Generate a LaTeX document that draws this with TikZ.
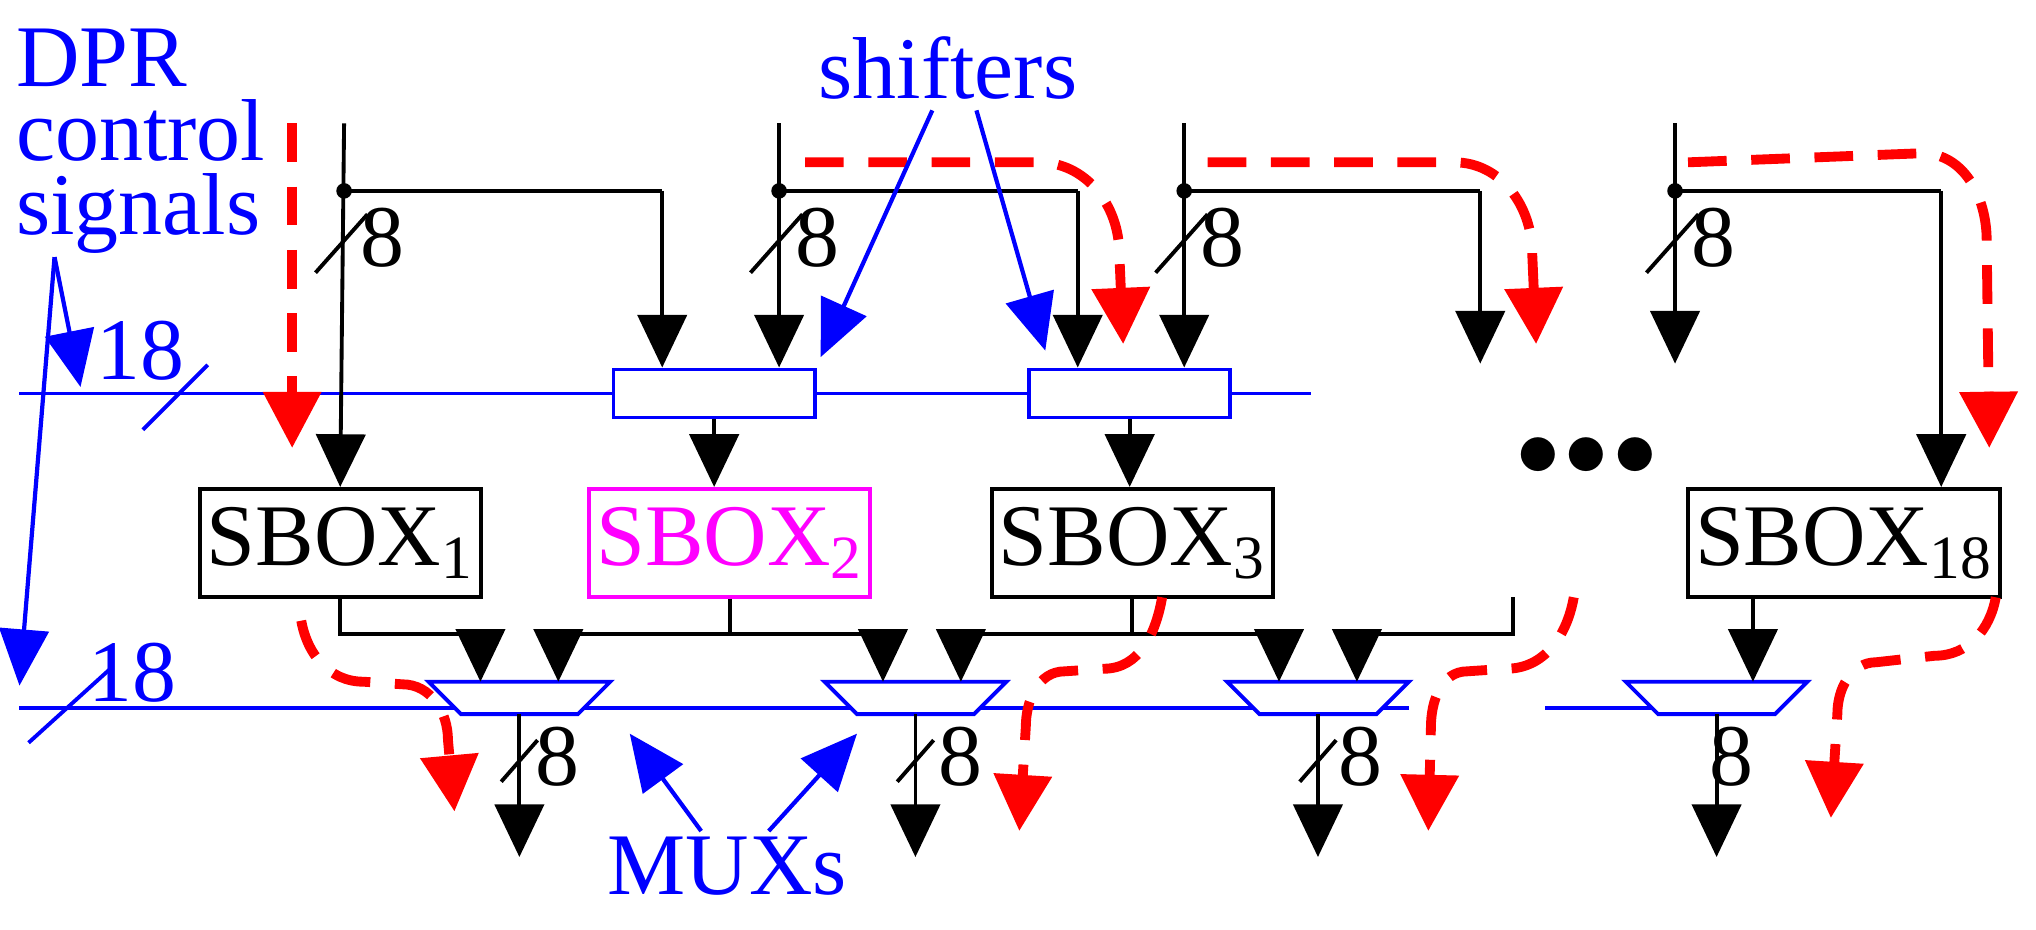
\documentclass[tikz,border=0pt]{standalone}
\usepackage{fontspec}
\setmainfont{Liberation Serif}
\usetikzlibrary{arrows.meta,calc}
\definecolor{mag}{RGB}{255,0,255}
\newlength{\ux}\setlength{\ux}{0.012985cm}
\tikzset{
 wire/.style={line width=1.1pt,-{Triangle[width=14pt,length=15pt]}},
 plain/.style={line width=1.1pt},
 bwire/.style={blue,line width=1.1pt},
 rd/.style={red,line width=2.8pt,dash pattern=on 11pt off 7pt,-{Triangle[width=16pt,length=16pt]}},
 bar/.style={blue,line width=1.2pt,-{Triangle[width=14pt,length=16pt]}},
 sbox/.style={draw,line width=1.1pt,inner sep=2pt,minimum width=215\ux,minimum height=83\ux,font=\fontsize{25}{25}\selectfont},
 shf/.style={draw=blue,fill=white,line width=1.1pt,minimum width=155\ux,minimum height=37\ux,inner sep=0pt},
 lab/.style={font=\fontsize{25}{26}\selectfont,inner sep=0pt},
 dot/.style={circle,fill,inner sep=0pt,minimum size=12\ux}
}
\begin{document}
\begin{tikzpicture}[x=0.012985cm,y=-0.012985cm]
\useasboundingbox (0,0) rectangle (1568,716);
% blue buses
\draw[bwire] (15,303) coordinate (busAL) -- (1010,303) coordinate (busAR);
\draw[bwire] (15,545) coordinate (busBL) -- (1085,545) coordinate (busBR);
\draw[bwire] (1190,545) coordinate (busCL) -- (1300,545) coordinate (busCR);
\draw[bwire] (110,331)--(160,281);
\draw[bwire] (22,572)--(85,515);
\node[lab,blue] (n18a) at (108,270) {18};
\node[lab,blue] (n18b) at (102,518) {18};
% shifters
\node[shf] (sh1) at (550,303) {};
\node[shf] (sh2) at (870,303) {};
% sboxes
\node[sbox] (s1) at (262,418) {SBOX\textsubscript{1}};
\node[sbox,draw=mag,text=mag] (s2) at (562,418) {SBOX\textsubscript{2}};
\node[sbox] (s3) at (872,418) {SBOX\textsubscript{3}};
\node[sbox] (s18) at (1420,418) {SBOX\textsubscript{18}};
\node[lab,font=\fontsize{40}{40}\selectfont] (dots) at (1222,352) {$\bullet\!\bullet\!\bullet$};
% top inputs
\foreach \x/\bx/\n in {265/510/a,600/830/b,912/1140/c,1290/1495/d}{
  \coordinate (top\n) at (\x,95);
  \node[dot] (d\n) at (\x,147) {};
  \draw[plain] (d\n.center) -- (\bx,147) coordinate (br\n);
  \draw[plain] (\x-22,210) -- (\x+18,165);
  \node[lab,anchor=west] (l8\n) at (\x+12,183) {8};
}
\draw[wire] (topa) -- (s1.north);
\draw[wire] (bra) -- (bra|-sh1.north);
\draw[wire] (topb) -- (topb|-sh1.north);
\draw[wire] (brb) -- (brb|-sh2.north);
\draw[wire] (topc) -- (topc|-sh2.north);
\draw[wire] (brc) -- (1140,280) coordinate (endc);
\draw[wire] (topd) -- (1290,280) coordinate (endd);
\draw[wire] (brd) -- (brd|-s18.north);
\draw[wire] (sh1.south) -- (sh1.south|-s2.north);
\draw[wire] (sh2.south) -- (sh2.south|-s3.north);
% muxes
\foreach \x/\n in {400/1,705/2,1015/3,1322/4}{
 \draw[blue,line width=1.1pt,fill=white] (\x-70,525) coordinate (mt\n l) -- (\x+70,525) coordinate (mt\n r) -- (\x+45,550) -- (\x-45,550) -- cycle;
 \coordinate (m\n) at (\x,525);
 \coordinate (mb\n) at (\x,550);
 \draw[wire] (mb\n) -- (\x,660) coordinate (o\n);
}
\foreach \n in {1,2,3}{\draw[plain] ($(mb\n)+(-14,52)$) -- ($(mb\n)+(14,20)$);}
\foreach \n/\x in {1/412,2/722,3/1030,4/1316}{\node[lab,anchor=west] (o8\n) at (\x,583) {8};}
% sbox to mux connections
\draw[plain] (s1.south) |- (370,488); \draw[wire] (370,487.5) -- (370,525);
\draw[plain] (s2.south) -- (562,488) coordinate (j2);
\draw[plain] (430,488) -- (680,488); \draw[wire] (430,487.5) -- (430,525); \draw[wire] (680,487.5)--(680,525);
\draw[plain] (s3.south) -- (872,488);
\draw[plain] (740,488) -- (985,488); \draw[wire] (740,487.5) -- (740,525); \draw[wire] (985,487.5)--(985,525);
\draw[plain] (1165,460) coordinate (ghost) -- (1165,488) -- (1045,488); \draw[wire] (1045,487.5)--(1045,525);
\draw[wire] (s18.south-|1350,0) -- (1350,525);
% red dashed
\draw[rd] (225,95) -- (225,345);
\draw[rd] (620,125) -- (800,125) to[out=0,in=90] (862,195) -- (865,265);
\draw[rd] (930,125) -- (1120,125) to[out=0,in=90] (1180,195) -- (1183,265);
\draw[rd] (1300,125) -- (1480,118) to[out=0,in=90] (1530,185) -- (1532,345);
\draw[rd] (232,478) to[out=-80,in=180] (280,525) -- (310,527) to[out=0,in=90] (345,570) -- (350,625);
\draw[rd] (895,460) to[out=-100,in=0] (850,515) -- (820,517) to[out=180,in=90] (790,560) -- (785,640);
\draw[rd] (1212,460) to[out=-100,in=0] (1160,515) -- (1130,517) to[out=180,in=90] (1102,560) -- (1100,640);
\draw[rd] (1537,460) to[out=-100,in=0] (1490,505) -- (1445,510) to[out=180,in=90] (1415,550) -- (1410,630);
% labels
\node[lab,blue,align=left,anchor=north west,font=\fontsize{25}{21}\selectfont] (dpr) at (12,22) {DPR\\control\\signals};
\node[lab,blue] (shl) at (730,52) {shifters};
\node[lab,blue] (mux) at (560,667) {MUXs};
\draw[bar] (42,198) -- (62,298);
\draw[bar] (42,198) -- (15,528);
\draw[bar] (718,85) -- (632,275);
\draw[bar] (752,85) -- (805,270);
\draw[bar] (540,640) -- (485,565);
\draw[bar] (592,640) -- (660,565);
\end{tikzpicture}
\end{document}
